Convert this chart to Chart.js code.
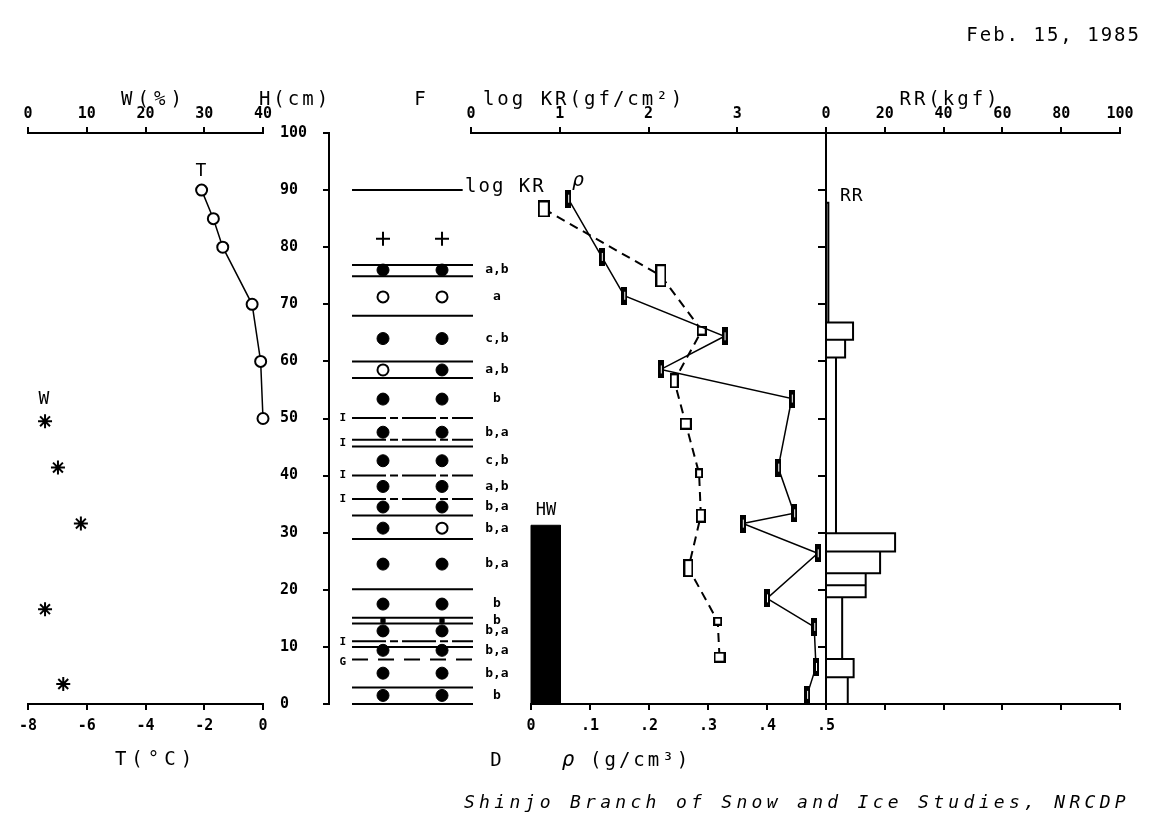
<!DOCTYPE html>
<html>
<head>
<meta charset="utf-8">
<script src="https://cdn.jsdelivr.net/npm/chart.js@4.4.0/dist/chart.umd.min.js"></script>
<style>
  body { margin: 0; background: #fff; }
  #wrap { position: relative; width: 1161px; height: 823px; }
  #wrap canvas { position: absolute; left: 0; top: 0; }
</style>
</head>
<body>
<div id="wrap">
  <canvas id="tempChart" width="1161" height="823"></canvas>
  <canvas id="grainChart" width="1161" height="823"></canvas>
  <canvas id="krChart" width="1161" height="823"></canvas>
  <canvas id="rhoChart" width="1161" height="823"></canvas>
  <canvas id="rrChart" width="1161" height="823"></canvas>
</div>
<script>
// ---- data (H = height above ground, cm) ----
const tHeights = [90, 85, 80, 70, 60, 50];
const tValues = [-2.09, -1.69, -1.37, -0.37, -0.08, 0.0];

const wHeights = [49.5, 41.4, 31.6, 16.6, 3.5];
const wValues = [2.9, 5.1, 9.0, 2.9, 6.0];

// layer boundaries: S = solid, I = ice layer, G = dashed, top = snow surface
const layerLines = [90, 76.9, 74.9, 68.0, 60.0, 57.1, 50.1, 46.3, 45.1, 40.0, 35.9, 33.0, 28.9, 20.1, 15.1, 14.1, 11.0, 10.0, 7.8, 2.9, 0];
const layerKinds = ['top', 'S', 'S', 'S', 'S', 'S', 'I', 'I', 'S', 'I', 'I', 'S', 'S', 'S', 'S', 'S', 'I', 'S', 'G', 'S', 'S'];
const iceMarks = [50.1, 45.7, 40.0, 35.9, 10.8];
const gMark = 7.4;

// grain shape (F) symbols, two observations per layer
const grainHeights = [81.5, 76.0, 71.3, 64.0, 58.5, 53.4, 47.6, 42.6, 38.1, 34.5, 30.8, 24.5, 17.5, 14.6, 12.8, 9.4, 5.4, 1.5];
const grainLeft = ['plus', 'filled', 'open', 'filled', 'open', 'filled', 'filled', 'filled', 'filled', 'filled', 'filled', 'filled', 'filled', 'small', 'filled', 'filled', 'filled', 'filled'];
const grainRight = ['plus', 'filled', 'open', 'filled', 'filled', 'filled', 'filled', 'filled', 'filled', 'filled', 'open', 'filled', 'filled', 'small', 'filled', 'filled', 'filled', 'filled'];
const grainLabels = ['', 'a,b', 'a', 'c,b', 'a,b', 'b', 'b,a', 'c,b', 'a,b', 'b,a', 'b,a', 'b,a', 'b', 'b', 'b,a', 'b,a', 'b,a', 'b'];

const krHeights = [86.7, 75.0, 65.4, 56.6, 49.1, 40.4, 33.0, 23.8, 14.5, 8.2];
const krValues = [0.82, 2.14, 2.60, 2.29, 2.42, 2.57, 2.59, 2.45, 2.78, 2.80];

const rhoHeights = [88.5, 78.3, 71.5, 64.4, 58.6, 53.5, 41.4, 33.4, 31.6, 26.4, 18.5, 13.5, 6.5, 1.6];
const rhoValues = [0.063, 0.12, 0.158, 0.328, 0.22, 0.442, 0.419, 0.446, 0.359, 0.486, 0.40, 0.48, 0.483, 0.468];

const hwHeight = 31.3;
const hwDensity = 0.05;

const rrBounds = [87.8, 66.8, 63.8, 60.7, 29.9, 26.7, 22.9, 20.8, 18.7, 7.9, 4.7, 0];
const rrValues = [0.8, 9.2, 6.5, 3.4, 23.5, 18.4, 13.5, 13.5, 5.5, 9.4, 7.4];

const hTicks = [0, 10, 20, 30, 40, 50, 60, 70, 80, 90, 100];
const tTicks = [-8, -6, -4, -2, 0];
const wTicks = [0, 10, 20, 30, 40];
const krTicks = [0, 1, 2, 3, 4];
const rhoTicks = [0, 0.1, 0.2, 0.3, 0.4, 0.5];
const rrTicks = [0, 20, 40, 60, 80, 100];

// ---- layout ----
const W = 1161, H = 823;
const TOP = 133, BOTTOM = 704, BAND = 34;
const ink = '#000';
const mono = 'DejaVu Sans Mono';
const tickFont = { family: mono, size: 15, weight: 'bold' };

function pad(left, right, hasTop, hasBottom, leftW) {
  return {
    autoPadding: false,
    padding: {
      left: left - (leftW || 0),
      right: W - right,
      top: TOP - (hasTop ? BAND : 0),
      bottom: H - BOTTOM - (hasBottom ? BAND : 0)
    }
  };
}

function hAxis(position, min, max, ticks, showLabels, fmt) {
  return {
    type: 'linear', position, min, max,
    afterBuildTicks: s => { s.ticks = ticks.map(v => ({ value: v })); },
    afterFit: s => { s.height = BAND; },
    border: { color: ink, width: 2 },
    grid: { drawOnChartArea: false, tickLength: 6, color: ink, lineWidth: 2 },
    ticks: {
      display: showLabels, color: ink, font: tickFont, padding: position === 'top' ? 4 : 7,
      maxRotation: 0, autoSkip: false, callback: fmt || (v => String(v))
    }
  };
}

const hiddenY = { type: 'linear', min: 0, max: 100, display: false };
const pts = (xs, ys) => xs.map((v, i) => ({ x: v, y: ys[i] }));

function say(ctx, s, x, y, o = {}) {
  ctx.save();
  ctx.font = `${o.italic ? 'italic ' : ''}${o.bold ? 'bold ' : ''}${o.size || 18}px '${mono}'`;
  ctx.fillStyle = ink;
  ctx.textAlign = o.align || 'center';
  ctx.textBaseline = 'middle';
  if ('letterSpacing' in ctx) ctx.letterSpacing = (o.gap === undefined ? 2 : o.gap) + 'px';
  ctx.fillText(s, x, y);
  ctx.restore();
}

function base(layout, scales, plugins) {
  return {
    responsive: false, animation: false, events: [],
    layout, scales,
    plugins: { legend: { display: false }, tooltip: { enabled: false }, ...(plugins || {}) }
  };
}

// ---- T / W panel ----
new Chart(document.getElementById('tempChart'), {
  type: 'scatter',
  data: {
    datasets: [{
      data: pts(tValues, tHeights), xAxisID: 'x', showLine: true,
      borderColor: ink, borderWidth: 1.5, pointRadius: 5.5, pointBorderWidth: 2,
      pointBackgroundColor: '#fff', pointBorderColor: ink, clip: false
    }, {
      data: pts(wValues, wHeights), xAxisID: 'xw', showLine: false,
      pointStyle: 'star', pointRadius: 7, pointBorderWidth: 2, pointBorderColor: ink, clip: false
    }]
  },
  options: base(pad(28, 263, true, true), {
    x: hAxis('bottom', -8, 0, tTicks, true),
    xw: hAxis('top', 0, 40, wTicks, true),
    y: hiddenY
  })
});

// ---- grain shape panel with H axis ----
const F_MIN = 0.085, F_MAX = 3.44;
function layerSet(kind, dash) {
  const d = [];
  layerLines.forEach((h, i) => {
    if (layerKinds[i] !== kind) return;
    d.push({ x: 0.475, y: h }, { x: kind === 'top' ? 2.35 : 2.525, y: h }, { x: 1, y: null });
  });
  return { data: d, showLine: true, pointRadius: 0, borderColor: ink, borderWidth: 2, borderDash: dash, spanGaps: false, clip: false };
}
function symbolSet(kind, style) {
  const d = [];
  grainHeights.forEach((h, i) => {
    if (grainLeft[i] === kind) d.push({ x: 1, y: h });
    if (grainRight[i] === kind) d.push({ x: 2, y: h });
  });
  return Object.assign({ data: d, showLine: false, clip: false, pointBorderColor: ink }, style);
}

const annotate = {
  id: 'annotate',
  afterDraw(chart) {
    const ctx = chart.ctx, y = chart.scales.y, x = chart.scales.x;
    grainLabels.forEach((s, i) => {
      if (s) say(ctx, s, x.getPixelForValue(2.93), y.getPixelForValue(grainHeights[i]), { size: 13, bold: true, gap: 0 });
    });
    iceMarks.forEach(h => say(ctx, 'I', x.getPixelForValue(0.32), y.getPixelForValue(h), { size: 11, bold: true, gap: 0 }));
    say(ctx, 'G', x.getPixelForValue(0.32), y.getPixelForValue(gMark), { size: 11, bold: true, gap: 0 });

    say(ctx, 'Feb. 15, 1985', 1141, 36, { align: 'right', size: 19, gap: 2 });
    say(ctx, 'W(%)', 154, 100, { size: 19, gap: 5 });
    say(ctx, 'H(cm)', 295, 100, { size: 19, gap: 3 });
    say(ctx, 'F', 421, 100, { size: 19 });
    say(ctx, 'log KR(gf/cm²)', 584, 100, { size: 19, gap: 3 });
    say(ctx, 'RR(kgf)', 950, 100, { size: 19, gap: 3 });
    say(ctx, 'T', 202, 171, { size: 18 });
    say(ctx, 'W', 45, 399, { size: 18 });
    say(ctx, 'log KR', 465, 187, { align: 'left', size: 19, gap: 2 });
    say(ctx, 'ρ', 579, 181, { size: 20, italic: true });
    say(ctx, 'RR', 840, 196, { align: 'left', size: 18, gap: 1 });
    say(ctx, 'HW', 546, 511, { size: 17, gap: 0 });
    say(ctx, 'T(°C)', 156, 760, { size: 19, gap: 5 });
    say(ctx, 'D', 497, 761, { size: 19 });
    say(ctx, 'ρ', 569, 761, { size: 21, italic: true });
    say(ctx, '(g/cm³)', 590, 761, { align: 'left', size: 19, gap: 3 });
    say(ctx, 'Shinjo Branch of Snow and Ice Studies, NRCDP', 1130, 803, { align: 'right', size: 18, italic: true, gap: 4.3 });
  }
};

new Chart(document.getElementById('grainChart'), {
  type: 'scatter',
  data: {
    datasets: [
      layerSet('top', []),
      layerSet('S', []),
      layerSet('I', [34, 4, 8, 4]),
      layerSet('G', [16, 10]),
      symbolSet('filled', { pointStyle: 'circle', pointRadius: 6, pointBackgroundColor: ink, pointBorderWidth: 1 }),
      symbolSet('open', { pointStyle: 'circle', pointRadius: 5.5, pointBackgroundColor: '#fff', pointBorderWidth: 2 }),
      symbolSet('plus', { pointStyle: 'cross', pointRadius: 7, pointBorderWidth: 2 }),
      symbolSet('small', { pointStyle: 'rect', pointRadius: 3, pointBackgroundColor: ink, pointBorderWidth: 1 })
    ]
  },
  options: base(pad(329, 527, false, false, 49), {
    x: { type: 'linear', min: F_MIN, max: F_MAX, display: false },
    y: {
      type: 'linear', position: 'left', min: 0, max: 100,
      afterBuildTicks: s => { s.ticks = hTicks.map(v => ({ value: v })); },
      afterFit: s => { s.width = 49; },
      border: { color: ink, width: 2 },
      grid: { drawOnChartArea: false, tickLength: 6, color: ink, lineWidth: 2 },
      ticks: { color: ink, font: tickFont, crossAlign: 'far', padding: 4, autoSkip: false }
    }
  }),
  plugins: [annotate]
});

// ---- log KR panel ----
const krBoxes = [[10, 15], [9, 21], [8, 8], [7, 13], [10, 10], [6, 8], [8, 12], [8, 16], [7, 7], [10, 9]];
function boxMarker(w, h) {
  const c = document.createElement('canvas');
  c.width = w + 2; c.height = h + 2;
  const g = c.getContext('2d');
  g.fillStyle = '#fff'; g.fillRect(1, 1, w, h);
  g.strokeStyle = ink; g.lineWidth = 2; g.strokeRect(1, 1, w, h);
  return c;
}
new Chart(document.getElementById('krChart'), {
  type: 'scatter',
  data: {
    datasets: [{
      data: pts(krValues, krHeights), showLine: true,
      borderColor: ink, borderWidth: 2, borderDash: [9, 6],
      pointStyle: krBoxes.map(b => boxMarker(b[0], b[1])), clip: false
    }]
  },
  options: base(pad(471, 826, true, false), {
    x: hAxis('top', 0, 4, krTicks, true, v => (v === 4 ? '' : String(v))),
    y: hiddenY
  })
});

// ---- density panel ----
function barMarker(w, h) {
  const c = document.createElement('canvas');
  c.width = w; c.height = h;
  const g = c.getContext('2d');
  g.fillStyle = ink; g.fillRect(0, 0, w, h);
  g.fillStyle = '#fff'; g.fillRect(Math.floor(w / 2), 5, 1, h - 10);
  return c;
}
const rhoMark = barMarker(6, 18);
new Chart(document.getElementById('rhoChart'), {
  type: 'scatter',
  data: {
    datasets: [{
      data: [{ x: 0, y: 0 }, { x: 0, y: hwHeight }, { x: hwDensity, y: hwHeight }, { x: hwDensity, y: 0 }],
      showLine: true, fill: 'origin', backgroundColor: ink, borderColor: ink, borderWidth: 1,
      pointRadius: 0, clip: false
    }, {
      data: pts(rhoValues, rhoHeights), showLine: true,
      borderColor: ink, borderWidth: 1.5, pointStyle: rhoMark, clip: false
    }]
  },
  options: base(pad(531, 826, false, true), {
    x: hAxis('bottom', 0, 0.5, rhoTicks, true, v => (v === 0 ? '0' : v.toFixed(1).replace('0.', '.'))),
    y: hiddenY
  }, { filler: { propagate: false } })
});

// ---- ram resistance panel ----
const rrTrace = [];
rrValues.forEach((v, i) => {
  rrTrace.push({ x: 0, y: rrBounds[i] }, { x: v, y: rrBounds[i] }, { x: v, y: rrBounds[i + 1] }, { x: 0, y: rrBounds[i + 1] });
});
new Chart(document.getElementById('rrChart'), {
  type: 'scatter',
  data: {
    datasets: [{
      data: rrTrace, showLine: true, borderColor: ink, borderWidth: 2, pointRadius: 0, clip: false
    }]
  },
  options: base(pad(826, 1120, true, true, 10), {
    x: hAxis('top', 0, 100, rrTicks, true),
    xb: hAxis('bottom', 0, 100, rrTicks, false),
    y: {
      type: 'linear', position: 'left', min: 0, max: 100,
      afterBuildTicks: s => { s.ticks = hTicks.map(v => ({ value: v })); },
      afterFit: s => { s.width = 10; },
      border: { color: ink, width: 2 },
      grid: { drawOnChartArea: false, tickLength: 8, color: ink, lineWidth: 2 },
      ticks: { display: false }
    }
  })
});
</script>
</body>
</html>
